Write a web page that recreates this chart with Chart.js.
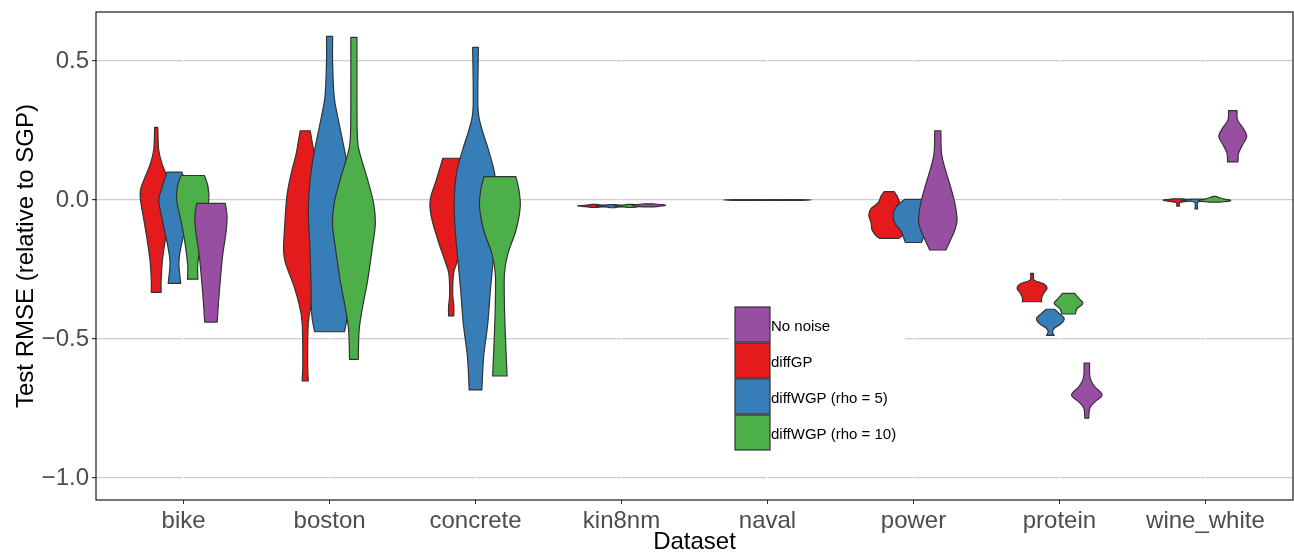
<!DOCTYPE html>
<html>
<head>
<meta charset="utf-8">
<script src="https://cdn.jsdelivr.net/npm/chart.js@4.4.1/dist/chart.umd.min.js"></script>
<style>
html, body { margin: 0; padding: 0; background: #fff; }
#wrap { width: 1294px; height: 557px; }
</style>
</head>
<body>
<div id="wrap"><canvas id="myChart" width="1294" height="557"></canvas></div>
<script>
const categories = ['bike', 'boston', 'concrete', 'kin8nm', 'naval', 'power', 'protein', 'wine_white'];
const yTicks = [-1.0, -0.5, 0.0, 0.5];
const groups = ['No noise', 'diffGP', 'diffWGP (rho = 5)', 'diffWGP (rho = 10)'];
const colors = ['#984EA3', '#E41A1C', '#377EB8', '#4DAF4A'];

// violin outlines: [value, relative density] from top to bottom, null = not shown
const noNoise = [
  [[-0.012,0.87],[-0.06,0.98],[-0.119,0.91],[-0.2,0.71],[-0.288,0.57],[-0.36,0.47],[-0.439,0.38]],
  null,
  null,
  [[-0.014,0.25],[-0.017,0.85],[-0.020,1.0],[-0.023,0.6],[-0.025,0.2]],
  [[0.0015,0.3],[0,1.0],[-0.0015,0.3]],
  [[0.249,0.14],[0.168,0.17],[0.108,0.35],[0.048,0.58],[-0.012,0.78],[-0.072,0.88],[-0.108,0.78],[-0.144,0.58],[-0.18,0.37]],
  [[-0.587,0.17],[-0.624,0.17],[-0.647,0.24],[-0.672,0.49],[-0.701,0.93],[-0.726,0.49],[-0.749,0.18],[-0.785,0.12]],
  [[0.321,0.26],[0.288,0.29],[0.258,0.63],[0.228,0.85],[0.198,0.59],[0.168,0.35],[0.137,0.32]]
];
const diffGP = [
  [[0.261,0.10],[0.18,0.15],[0.126,0.38],[0.072,0.75],[0.036,0.96],[0,0.96],[-0.072,0.75],[-0.144,0.55],[-0.216,0.38],[-0.288,0.30],[-0.332,0.30]],
  [[0.249,0.23],[0.168,0.41],[0.096,0.64],[0.012,0.84],[-0.108,0.95],[-0.18,0.99],[-0.228,0.90],[-0.3,0.56],[-0.372,0.29],[-0.444,0.14],[-0.587,0.11],[-0.651,0.14]],
  [[0.15,0.38],[0.072,0.68],[0,0.96],[-0.06,0.91],[-0.144,0.61],[-0.216,0.30],[-0.264,0.11],[-0.336,0.07],[-0.384,0.12],[-0.417,0.12]],
  [[-0.016,0.15],[-0.019,0.6],[-0.021,1.0],[-0.024,0.5],[-0.027,0.15]],
  [[0.0015,0.3],[0,1.0],[-0.0015,0.3]],
  [[0.03,0.23],[0.012,0.38],[-0.01,0.5],[-0.03,0.82],[-0.054,0.93],[-0.084,0.82],[-0.108,0.78],[-0.128,0.6],[-0.138,0.45]],
  [[-0.264,0.09],[-0.288,0.13],[-0.302,0.73],[-0.318,0.91],[-0.336,0.70],[-0.354,0.58],[-0.366,0.59]],
  [[0.004,0.3],[0.001,0.8],[-0.002,0.87],[-0.006,0.4],[-0.01,0.1],[-0.022,0.08]]
];
const diffWGP5 = [
  [[0.1,0.46],[0.048,0.74],[0,0.95],[-0.06,0.78],[-0.119,0.58],[-0.168,0.40],[-0.227,0.27],[-0.3,0.38]],
  [[0.588,0.14],[0.492,0.14],[0.372,0.21],[0.3,0.37],[0.216,0.59],[0.132,0.79],[0.036,0.93],[-0.048,0.97],[-0.168,0.90],[-0.288,0.85],[-0.408,0.82],[-0.474,0.68]],
  [[0.549,0.13],[0.336,0.11],[0.264,0.26],[0.18,0.59],[0.096,0.87],[0,0.97],[-0.096,0.94],[-0.204,0.82],[-0.324,0.68],[-0.444,0.56],[-0.564,0.37],[-0.683,0.29]],
  [[-0.017,0.15],[-0.02,0.7],[-0.022,1.0],[-0.025,0.4],[-0.028,0.12]],
  [[0.0015,0.3],[0,1.0],[-0.0015,0.3]],
  [[0.002,0.41],[-0.024,0.78],[-0.054,0.93],[-0.084,0.85],[-0.114,0.55],[-0.135,0.45],[-0.153,0.37]],
  [[-0.393,0.24],[-0.408,0.54],[-0.426,0.84],[-0.444,0.68],[-0.462,0.23],[-0.474,0.13],[-0.487,0.23]],
  [[0.003,0.3],[0,0.9],[-0.004,0.6],[-0.008,0.1],[-0.032,0.08]]
];
const diffWGP10 = [
  [[0.088,0.71],[0.048,0.93],[0,0.98],[-0.06,0.77],[-0.119,0.57],[-0.18,0.41],[-0.24,0.30],[-0.285,0.32]],
  [[0.585,0.14],[0.372,0.14],[0.252,0.15],[0.192,0.20],[0.132,0.40],[0.072,0.63],[-0.012,0.90],[-0.084,0.98],[-0.168,0.85],[-0.288,0.63],[-0.384,0.40],[-0.468,0.24],[-0.573,0.20]],
  [[0.084,0.73],[0.036,0.87],[-0.024,0.93],[-0.108,0.74],[-0.192,0.37],[-0.264,0.21],[-0.384,0.21],[-0.504,0.26],[-0.633,0.33]],
  [[-0.016,0.15],[-0.019,0.6],[-0.021,1.0],[-0.024,0.5],[-0.027,0.15]],
  [[0.0015,0.3],[0,1.0],[-0.0015,0.3]],
  null,
  [[-0.336,0.37],[-0.354,0.63],[-0.372,0.87],[-0.39,0.53],[-0.41,0.41]],
  [[0.013,0.1],[0.008,0.3],[0.003,0.6],[0,0.95],[-0.004,0.9],[-0.008,0.3]]
];

const violinSets = [noNoise, diffGP, diffWGP5, diffWGP10];
const dodgeOrder = [1, 2, 3, 0];   // left to right, also drawing order

const FONT = '"Liberation Sans", Arial, Helvetica, sans-serif';

function smoothTo(ctx, pts) {
  for (let i = 0; i < pts.length - 1; i++) {
    const p0 = pts[i - 1] || pts[i], p1 = pts[i], p2 = pts[i + 1], p3 = pts[i + 2] || p2;
    ctx.bezierCurveTo(
      p1[0] + (p2[0] - p0[0]) / 6, p1[1] + (p2[1] - p0[1]) / 6,
      p2[0] - (p3[0] - p1[0]) / 6, p2[1] - (p3[1] - p1[1]) / 6,
      p2[0], p2[1]);
  }
}

const violinPlugin = {
  id: 'violins',
  afterDatasetsDraw(chart) {
    const { ctx, chartArea, scales: { x, y } } = chart;
    ctx.save();
    ctx.beginPath();
    ctx.rect(chartArea.left, chartArea.top, chartArea.width, chartArea.height);
    ctx.clip();
    categories.forEach((cat, c) => {
      const present = dodgeOrder.filter(g => chart.data.datasets[g].violins[c]);
      const n = present.length;
      present.forEach((g, k) => {
        const ds = chart.data.datasets[g];
        const prof = ds.violins[c];
        const mid = c + 1 + (k - (n - 1) / 2) * 0.5 / n;
        const half = 0.9 / n / 2;
        const right = prof.map(([v, d]) => [x.getPixelForValue(mid + d * half), y.getPixelForValue(v)]);
        const left = prof.map(([v, d]) => [x.getPixelForValue(mid - d * half), y.getPixelForValue(v)]).reverse();
        ctx.beginPath();
        ctx.moveTo(left[left.length - 1][0], left[left.length - 1][1]);
        ctx.lineTo(right[0][0], right[0][1]);
        smoothTo(ctx, right);
        ctx.lineTo(left[0][0], left[0][1]);
        smoothTo(ctx, left);
        ctx.closePath();
        ctx.fillStyle = ds.backgroundColor;
        ctx.fill();
        ctx.lineWidth = 1.2;
        ctx.lineJoin = 'round';
        ctx.strokeStyle = '#333333';
        ctx.stroke();
      });
    });
    ctx.restore();
  },
  afterDraw(chart) {
    const { ctx, chartArea } = chart;
    ctx.save();
    ctx.strokeStyle = '#1a1a1a';
    ctx.lineWidth = 1.2;
    ctx.strokeRect(chartArea.left, chartArea.top, chartArea.width, chartArea.height);

    // legend inside the panel
    const lx = 735, ly = 307, key = 36;
    ctx.fillStyle = '#ffffff';
    ctx.fillRect(lx - 6, ly - 6, 176, key * 4 + 12);
    ctx.font = '15px ' + FONT;
    ctx.textBaseline = 'middle';
    chart.data.datasets.forEach((ds, i) => {
      const ky = ly + i * key;
      ctx.fillStyle = ds.backgroundColor;
      ctx.fillRect(lx, ky, key - 1, key - 1);
      ctx.strokeStyle = '#333333';
      ctx.lineWidth = 1.2;
      ctx.strokeRect(lx, ky, key - 1, key - 1);
      ctx.fillStyle = '#000000';
      ctx.fillText(ds.label, lx + key, ky + key / 2 + 2);
    });
    ctx.restore();
  }
};

const data = {
  datasets: groups.map((g, i) => ({
    type: 'line',
    label: g,
    data: [],
    backgroundColor: colors[i],
    borderColor: colors[i],
    violins: violinSets[i]
  }))
};

const config = {
  type: 'line',
  data: data,
  options: {
    responsive: false,
    animation: false,
    devicePixelRatio: 1,
    layout: { padding: { top: 12, right: 1, left: 0, bottom: 0 } },
    plugins: {
      legend: { display: false },
      tooltip: { enabled: false }
    },
    scales: {
      x: {
        type: 'linear',
        min: 0.4,
        max: 8.6,
        afterBuildTicks: (scale) => { scale.ticks = categories.map((c, i) => ({ value: i + 1 })); },
        afterFit: (scale) => { scale.height = 57; scale.paddingLeft = 0; scale.paddingRight = 0; },
        grid: { color: '#ffffff', lineWidth: 1, tickColor: '#333333', tickLength: 4, z: -1 },
        border: { display: false },
        ticks: {
          autoSkip: false,
          maxRotation: 0,
          padding: 3,
          color: '#4d4d4d',
          font: { family: FONT, size: 24 },
          callback: (v) => categories[Math.round(v) - 1]
        },
        title: {
          display: true,
          text: 'Dataset',
          color: '#000000',
          font: { family: FONT, size: 24 },
          padding: { top: 0, bottom: 0 }
        }
      },
      y: {
        min: -1.079,
        max: 0.676,
        afterBuildTicks: (scale) => { scale.ticks = yTicks.map(v => ({ value: v })); },
        afterFit: (scale) => { scale.width = 96; scale.paddingTop = 0; scale.paddingBottom = 0; },
        grid: { color: '#cccccc', lineWidth: 1.2, tickColor: '#333333', tickLength: 4, z: -2 },
        border: { display: false },
        ticks: {
          padding: 3,
          color: '#4d4d4d',
          font: { family: FONT, size: 24 },
          callback: (v) => (v < 0 ? '\u2212' : '') + Math.abs(v).toFixed(1)
        },
        title: {
          display: true,
          text: 'Test RMSE (relative to SGP)',
          color: '#000000',
          font: { family: FONT, size: 24 },
          padding: { top: 12, bottom: 0 }
        }
      }
    }
  },
  plugins: [violinPlugin]
};

const myChart = new Chart(document.getElementById('myChart'), config);
</script>
</body>
</html>
